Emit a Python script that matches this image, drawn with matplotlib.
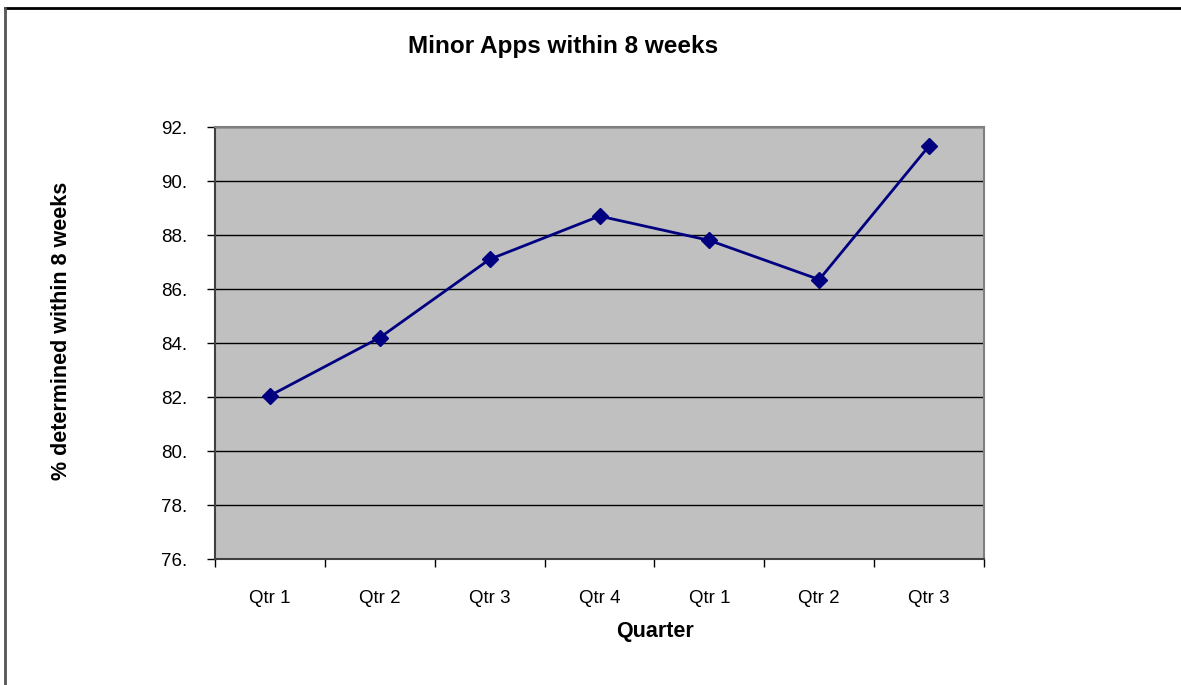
import matplotlib.pyplot as plt
import matplotlib.lines as mlines

plt.rcParams['font.family'] = ['Liberation Sans', 'DejaVu Sans']

quarters = ['Qtr 1', 'Qtr 2', 'Qtr 3', 'Qtr 4', 'Qtr 1', 'Qtr 2', 'Qtr 3']
pct = [82.05, 84.2, 87.1, 88.7, 87.8, 86.35, 91.3]
yticks = [76, 78, 80, 82, 84, 86, 88, 90, 92]

W, H = 1181, 685
fig = plt.figure(figsize=(W / 100, H / 100), dpi=100)
ax = fig.add_axes([215 / W, 1 - 559 / H, (984 - 215) / W, (559 - 127) / H])
ax.set_facecolor('#C0C0C0')

x = list(range(len(quarters)))
ax.plot(x, pct, color='#000080', linewidth=2, marker='D', markersize=8, zorder=3)

ax.set_xlim(-0.5, len(quarters) - 0.5)
ax.set_ylim(76, 92)
ax.set_yticks(yticks)
ax.set_yticklabels(['%d.' % v for v in yticks])
ax.set_xticks(x)
ax.set_xticklabels(quarters)
ax.set_xticks([i - 0.5 for i in range(len(quarters) + 1)], minor=True)
ax.tick_params(axis='x', which='major', length=0, pad=22, labelsize=13.5)
ax.tick_params(axis='x', which='minor', length=6, width=1, direction='out')
ax.tick_params(axis='y', length=6, width=1, direction='out', pad=14, labelsize=13.5)
ax.yaxis.grid(True, color='black', linewidth=1)
ax.set_axisbelow(True)

for side in ['top', 'right']:
    ax.spines[side].set_color('#808080')
    ax.spines[side].set_linewidth(1.5)
for side in ['left', 'bottom']:
    ax.spines[side].set_color('#404040')
    ax.spines[side].set_linewidth(1.5)

fig.text(563 / W, 1 - 46 / H, 'Minor Apps within 8 weeks', fontsize=17.5, fontweight='bold',
         ha='center', va='center')
fig.text(655 / W, 1 - 631 / H, 'Quarter', fontsize=15.5, fontweight='bold', ha='center', va='center')
fig.text(62 / W, 1 - 331 / H, '% determined within 8 weeks', fontsize=15.5, fontweight='bold',
         ha='center', va='center', rotation=90)

# outer chart border
fig.add_artist(mlines.Line2D([5 / W, 1], [1 - 8 / H, 1 - 8 / H], color='black', linewidth=2, transform=fig.transFigure))
fig.add_artist(mlines.Line2D([5 / W, 5 / W], [0, 1 - 8 / H], color='#555555', linewidth=2, transform=fig.transFigure))

fig.savefig('out.png', dpi=100)
